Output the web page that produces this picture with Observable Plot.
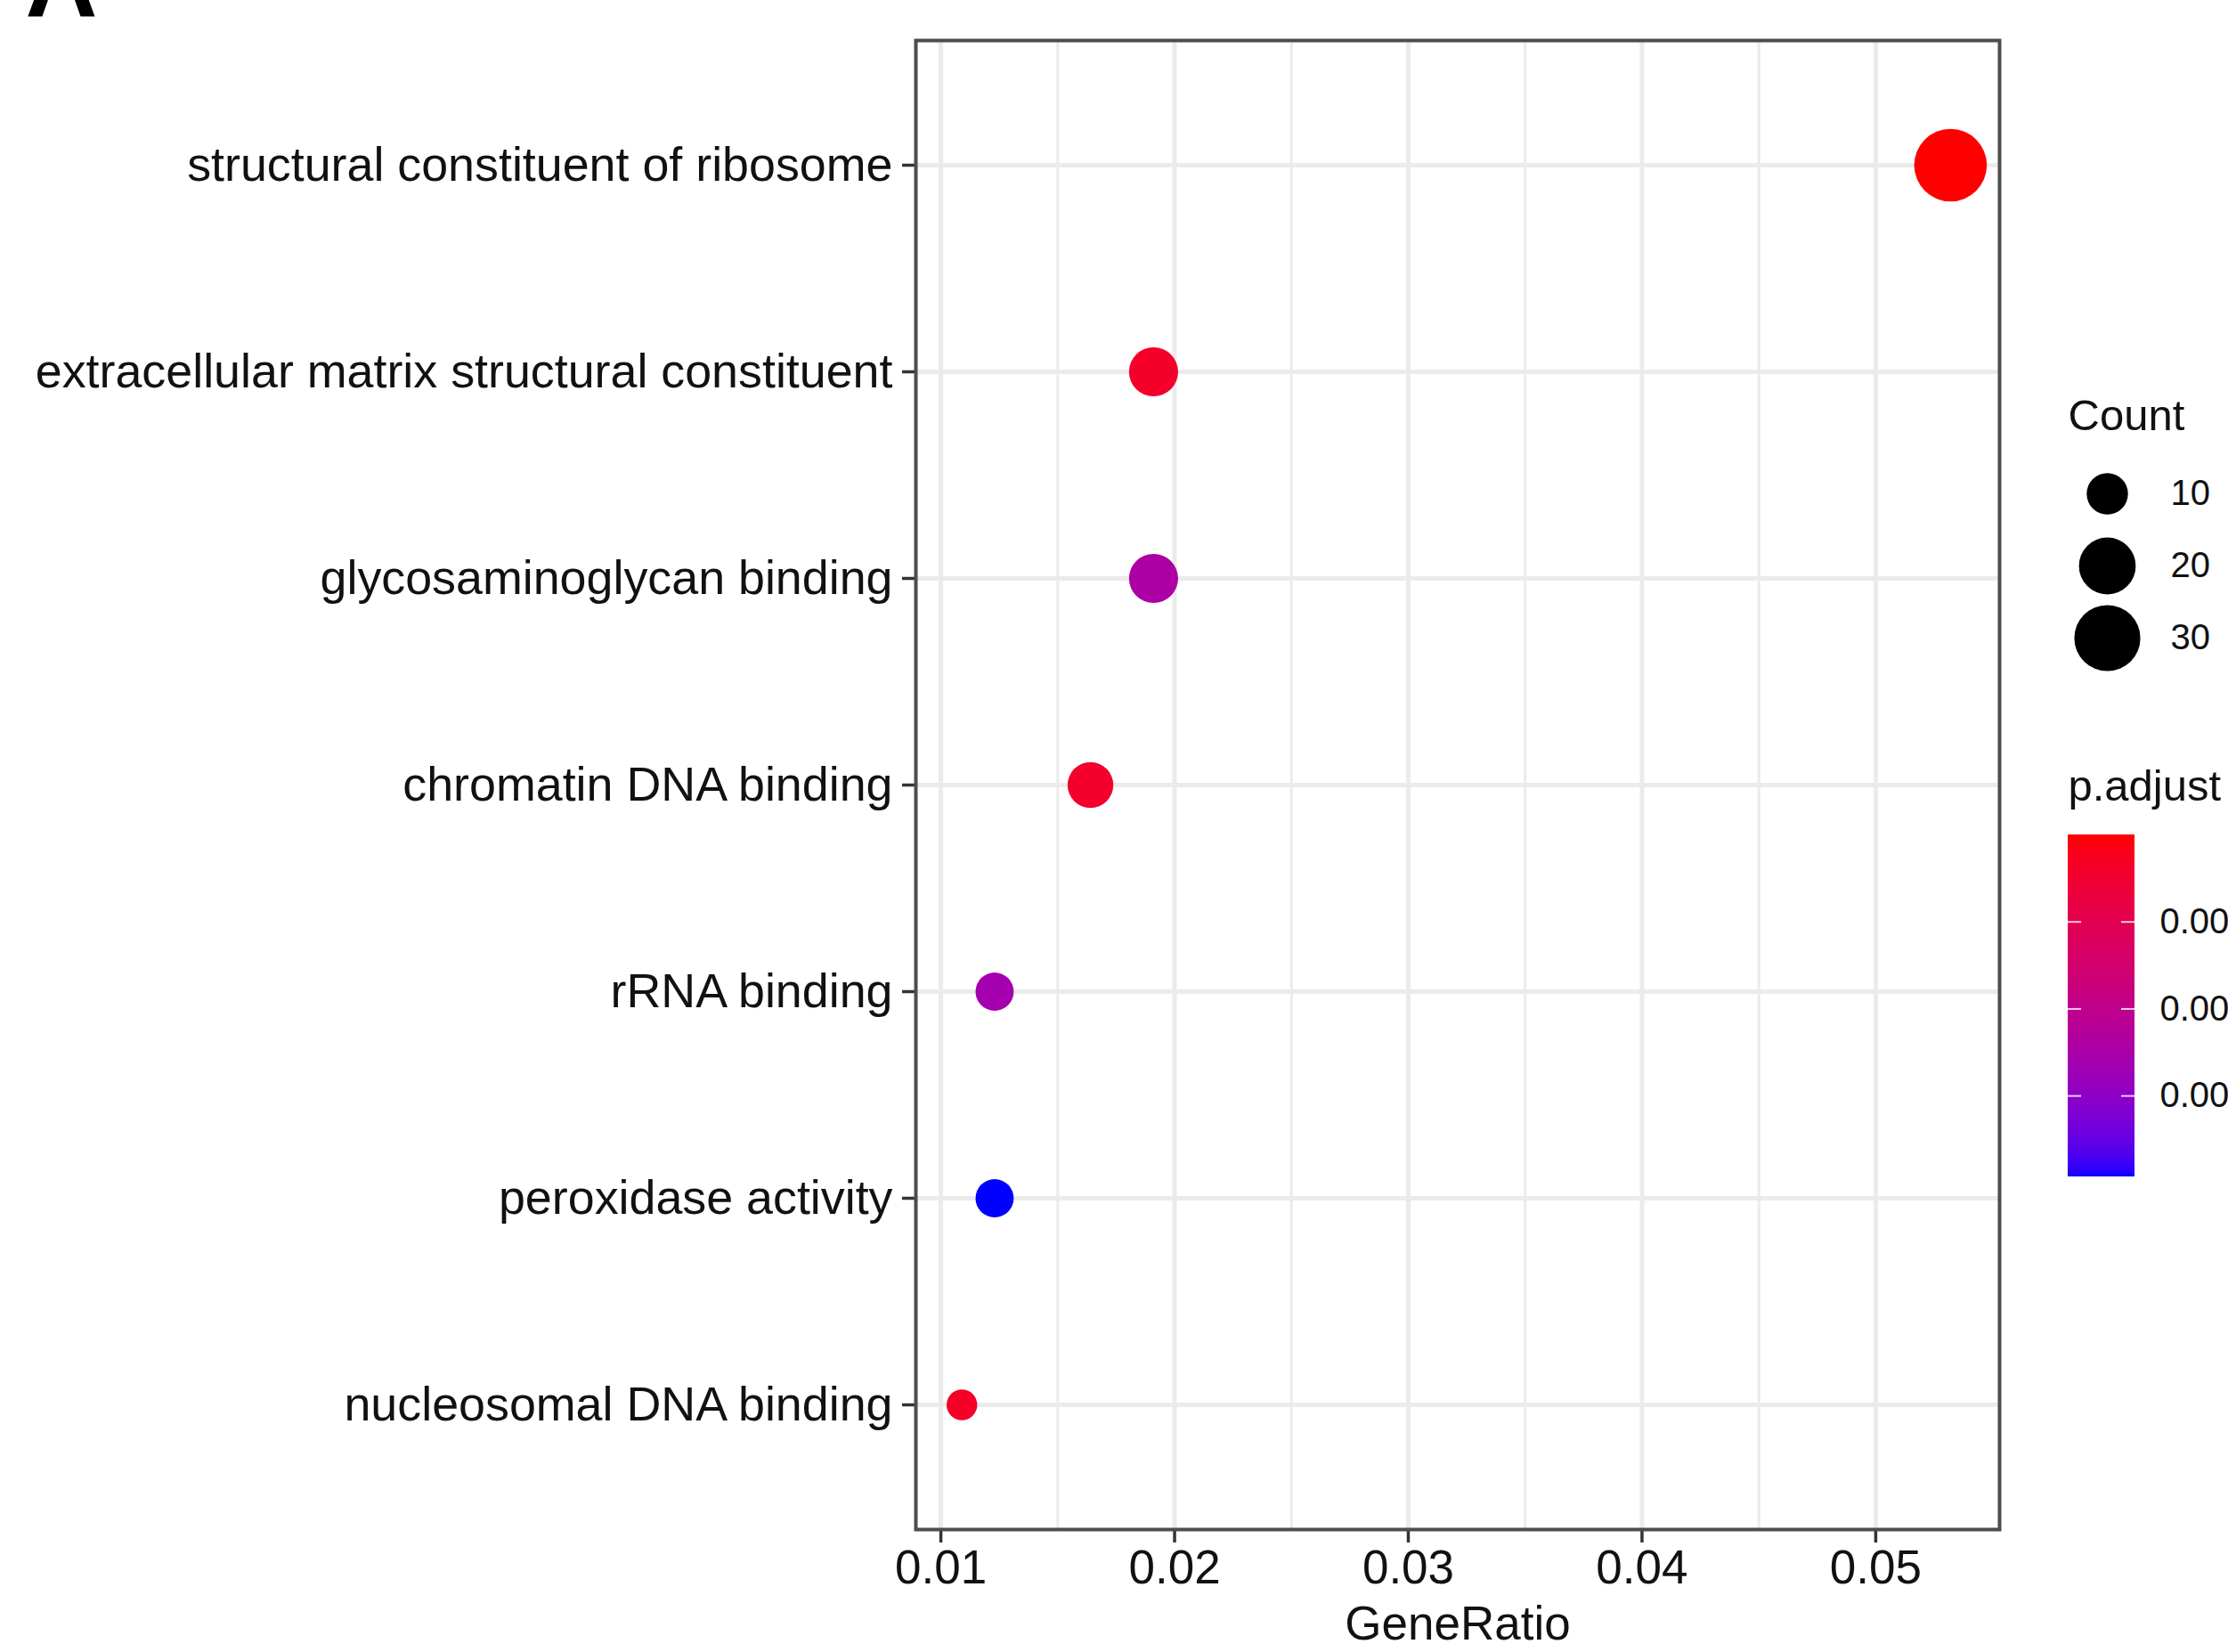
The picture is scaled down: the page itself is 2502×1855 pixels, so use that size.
<!DOCTYPE html>
<html><head><meta charset="utf-8">
<script src="https://cdn.jsdelivr.net/npm/d3@7"></script>
<script src="https://cdn.jsdelivr.net/npm/@observablehq/plot@0.6"></script>
<style>
html,body{margin:0;padding:0;background:#fff;}
#wrap{position:relative;width:2502px;height:1855px;overflow:hidden;background:#fff;}
.leg{position:absolute;}
</style></head><body>
<div id="wrap"></div>
<script>
// ---- data ----
const terms = [
  "structural constituent of ribosome",
  "extracellular matrix structural constituent",
  "glycosaminoglycan binding",
  "chromatin DNA binding",
  "rRNA binding",
  "peroxidase activity",
  "nucleosomal DNA binding"
];
const geneRatio = [0.0532, 0.0191, 0.0191, 0.0164, 0.0123, 0.0123, 0.0109];
const counts    = [39, 14, 14, 12, 9, 9, 8];
const pAdjust   = [2e-8, 0.00039, 0.00245, 0.00042, 0.00262, 0.00393, 0.00035];
const xTicks = [0.01, 0.02, 0.03, 0.04, 0.05];
const xMinor = [0.015, 0.025, 0.035, 0.045];
const countBreaks = [10, 20, 30];
const pBreaks = [0.001, 0.002, 0.003];

const data = terms.map((t, i) => ({term: t, ratio: geneRatio[i], count: counts[i], padj: pAdjust[i]}));
const minCount = d3.min(counts), maxCount = d3.max(counts);
const pmin = d3.min(pAdjust), pmax = d3.max(pAdjust);

const font = "'Liberation Sans', Arial, Helvetica, sans-serif";
const rScale = {type: "sqrt", domain: [0, maxCount - minCount], range: [17.2, 40.8]};
const colorScale = {type: "linear", domain: [pmin, pmax], range: ["#FF0000", "#0000FF"], interpolate: d3.interpolateLab};
const gridStyle = {stroke: "#EBEBEB", strokeOpacity: 1};

const wrap = document.getElementById("wrap");

const main = Plot.plot({
  width: 2502, height: 1855,
  marginLeft: 1028, marginRight: 257, marginTop: 45, marginBottom: 138,
  style: {fontFamily: font, background: "transparent"},
  x: {domain: [0.00893, 0.0553]},
  y: {type: "point", domain: terms, padding: 0.6},
  r: rScale,
  color: colorScale,
  marks: [
    Plot.gridX(xMinor, {...gridStyle, strokeWidth: 3}),
    Plot.gridX(xTicks, {...gridStyle, strokeWidth: 5}),
    Plot.gridY(terms, {...gridStyle, strokeWidth: 5}),
    Plot.axisX({ticks: xTicks, tickFormat: d3.format(".2f"), tickSize: 15, tickPadding: 8,
      fontSize: 53, stroke: "#333", strokeWidth: 3.5, fill: "#111", label: null}),
    Plot.axisY({ticks: terms, tickSize: 15, tickPadding: 11,
      fontSize: 53.8, stroke: "#333", strokeWidth: 3.5, fill: "#111", label: null}),
    Plot.dot(data, {x: "ratio", y: "term", r: d => d.count - minCount, fill: "padj", stroke: "none"}),
    Plot.frame({stroke: "#4d4d4d", strokeWidth: 4}),
    Plot.text(["GeneRatio"], {text: d => d, frameAnchor: "bottom", dy: 123, lineAnchor: "bottom", fontSize: 53, fill: "#111"}),
    Plot.text(["A"], {text: d => d, frameAnchor: "top-left", dx: -1000, dy: -27, lineAnchor: "bottom",
      textAnchor: "start", fontSize: 112, fontWeight: "bold", fill: "#000"})
  ]
});
wrap.appendChild(main);

// ---- Count legend ----
const countLeg = Plot.plot({
  width: 180, height: 340, marginTop: 134, marginBottom: 44, marginLeft: 0, marginRight: 0,
  style: {fontFamily: font, background: "transparent"},
  y: {type: "point", domain: countBreaks, padding: 0, axis: null},
  r: rScale,
  marks: [
    Plot.text(["Count"], {text: d => d, frameAnchor: "top-left", dy: -72, lineAnchor: "bottom",
      textAnchor: "start", fontSize: 49, fill: "#111"}),
    Plot.dot(countBreaks, {y: d => d, r: d => d - minCount, fill: "black", stroke: "none", frameAnchor: "left", dx: 44}),
    Plot.text(countBreaks, {y: d => d, text: d => String(d), frameAnchor: "left", dx: 115,
      textAnchor: "start", fontSize: 40, fill: "#111"})
  ]
});
const d1 = document.createElement("div");
d1.className = "leg"; d1.style.left = "2322px"; d1.style.top = "420px"; d1.style.width = "180px";
d1.appendChild(countLeg); wrap.appendChild(d1);

// ---- p.adjust colorbar legend ----
const N = 192;
const stops = d3.range(N).map(i => ({y1: pmin + (pmax - pmin) * i / N, y2: pmin + (pmax - pmin) * (i + 1) / N}));
const pLeg = Plot.plot({
  width: 180, height: 501, marginTop: 97, marginBottom: 20, marginLeft: 0, marginRight: 0,
  style: {fontFamily: font, background: "transparent"},
  x: {domain: [0, 1], range: [0, 75], axis: null},
  y: {domain: [pmin, pmax], reverse: true, axis: null},
  color: colorScale,
  marks: [
    Plot.text(["p.adjust"], {text: d => d, frameAnchor: "top-left", dy: -39, lineAnchor: "bottom",
      textAnchor: "start", fontSize: 49, fill: "#111"}),
    Plot.rect(stops, {x1: 0, x2: 1, y1: "y1", y2: "y2", fill: d => (d.y1 + d.y2) / 2, shapeRendering: "crispEdges"}),
    Plot.ruleY(pBreaks, {x1: 0, x2: 0.2, stroke: "white", strokeOpacity: 0.8, strokeWidth: 2}),
    Plot.ruleY(pBreaks, {x1: 0.8, x2: 1, stroke: "white", strokeOpacity: 0.8, strokeWidth: 2}),
    Plot.text(pBreaks, {x: 1, y: d => d, dx: 28, text: d => d3.format(".3f")(d), textAnchor: "start", fontSize: 40, fill: "#111"})
  ]
});
const d2 = document.createElement("div");
d2.className = "leg"; d2.style.left = "2322px"; d2.style.top = "840px"; d2.style.width = "180px";
d2.appendChild(pLeg); wrap.appendChild(d2);
</script>
</body></html>
